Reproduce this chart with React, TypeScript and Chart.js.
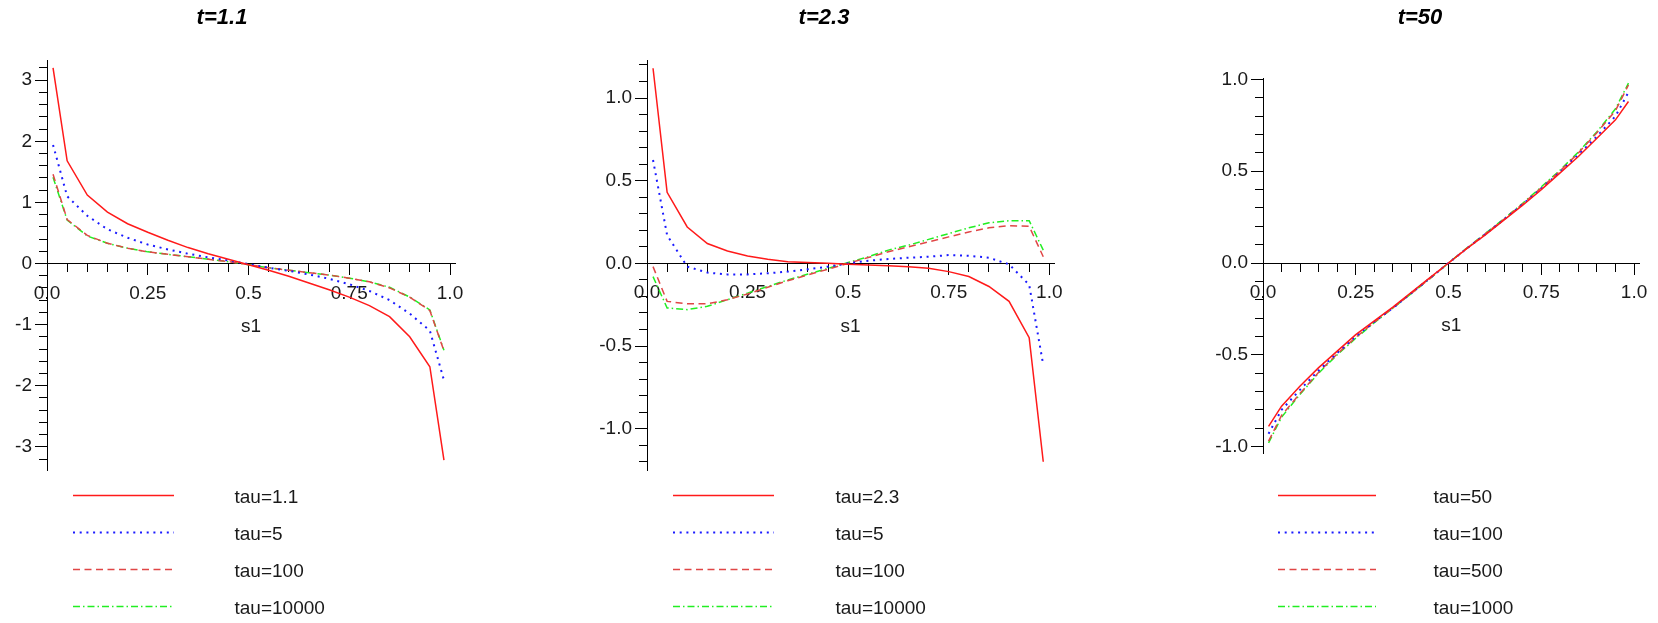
import React, { useEffect, useRef } from 'react';
import { Chart, registerables } from 'chart.js';

Chart.register(...registerables);

// ---------- data ----------
const sValues = [0.015, 0.05, 0.1, 0.15, 0.2, 0.25, 0.3, 0.35, 0.4, 0.45, 0.5, 0.55, 0.6, 0.65, 0.7, 0.75, 0.8, 0.85, 0.9, 0.95, 0.985];

// panel 1: t=1.1
const p1Title = 't=1.1';
const p1Labels = ['tau=1.1', 'tau=5', 'tau=100', 'tau=10000'];
const p1Tau1_1 = [3.2, 1.68, 1.12, 0.84, 0.65, 0.51, 0.38, 0.26, 0.16, 0.07, -0.02, -0.11, -0.21, -0.32, -0.43, -0.55, -0.69, -0.87, -1.2, -1.69, -3.22];
const p1Tau5 = [1.94, 1.1, 0.78, 0.56, 0.42, 0.31, 0.23, 0.16, 0.1, 0.05, -0.01, -0.07, -0.12, -0.18, -0.25, -0.34, -0.45, -0.6, -0.82, -1.1, -1.91];
const p1Tau100 = [1.46, 0.72, 0.46, 0.33, 0.25, 0.19, 0.15, 0.11, 0.07, 0.03, -0.02, -0.07, -0.11, -0.15, -0.19, -0.24, -0.3, -0.4, -0.55, -0.77, -1.43];
const p1Tau10000 = [1.41, 0.71, 0.45, 0.33, 0.25, 0.19, 0.15, 0.11, 0.07, 0.03, -0.02, -0.07, -0.11, -0.15, -0.19, -0.24, -0.3, -0.39, -0.55, -0.76, -1.42];

// panel 2: t=2.3
const p2Title = 't=2.3';
const p2Labels = ['tau=2.3', 'tau=5', 'tau=100', 'tau=10000'];
const p2Tau2_3 = [1.18, 0.43, 0.22, 0.12, 0.075, 0.045, 0.025, 0.01, 0.005, 0.0, -0.005, -0.01, -0.015, -0.02, -0.03, -0.05, -0.08, -0.14, -0.23, -0.45, -1.2];
const p2Tau5 = [0.625, 0.17, -0.02, -0.056, -0.067, -0.067, -0.06, -0.05, -0.036, -0.02, 0.0, 0.016, 0.026, 0.034, 0.04, 0.05, 0.046, 0.034, -0.006, -0.13, -0.615];
const p2Tau100 = [-0.02, -0.23, -0.245, -0.245, -0.22, -0.185, -0.145, -0.105, -0.07, -0.035, 0.0, 0.035, 0.07, 0.1, 0.13, 0.16, 0.19, 0.215, 0.228, 0.224, 0.04];
const p2Tau10000 = [-0.08, -0.27, -0.28, -0.26, -0.22, -0.18, -0.14, -0.1, -0.065, -0.03, 0.005, 0.04, 0.08, 0.11, 0.145, 0.18, 0.215, 0.245, 0.258, 0.258, 0.08];

// panel 3: t=50
const p3Title = 't=50';
const p3Labels = ['tau=50', 'tau=100', 'tau=500', 'tau=1000'];
const p3Tau50 = [-0.89, -0.78, -0.67, -0.57, -0.48, -0.39, -0.315, -0.24, -0.16, -0.08, 0.0, 0.08, 0.155, 0.235, 0.315, 0.4, 0.49, 0.58, 0.68, 0.78, 0.88];
const p3Tau100 = [-0.93, -0.8, -0.69, -0.585, -0.49, -0.4, -0.32, -0.245, -0.163, -0.082, 0.0, 0.08, 0.158, 0.238, 0.32, 0.405, 0.495, 0.59, 0.69, 0.8, 0.93];
const p3Tau500 = [-0.97, -0.83, -0.71, -0.595, -0.495, -0.405, -0.322, -0.245, -0.165, -0.084, 0.0, 0.082, 0.16, 0.24, 0.322, 0.41, 0.5, 0.6, 0.71, 0.83, 0.97];
const p3Tau1000 = [-0.98, -0.84, -0.715, -0.6, -0.5, -0.41, -0.325, -0.246, -0.166, -0.085, 0.0, 0.083, 0.162, 0.242, 0.325, 0.415, 0.505, 0.605, 0.715, 0.84, 0.98];

// tick labels
const xTickValues = [0, 0.25, 0.5, 0.75, 1.0];
const xTickLabels = ['0.0', '0.25', '0.5', '0.75', '1.0'];
const p1YTickValues = [-3, -2, -1, 0, 1, 2, 3];
const p1YTickLabels = ['-3', '-2', '-1', '0', '1', '2', '3'];
const p23YTickValues = [-1, -0.5, 0, 0.5, 1];
const p23YTickLabels = ['-1.0', '-0.5', '0.0', '0.5', '1.0'];

// ---------- styles ----------
const FONT = 'Liberation Sans, Arial, sans-serif';
const LABEL_COLOR = '#1a1a1a';
const seriesStyles = [
  { color: '#ff1a1a', width: 1.5, dash: [] as number[] },
  { color: '#1a1aff', width: 2, dash: [2, 4.7] },
  { color: '#e04646', width: 1.5, dash: [7, 4.5] },
  { color: '#22ee22', width: 1.5, dash: [7, 3, 1.5, 3] },
];

type PanelCfg = {
  title: string;
  labels: string[];
  series: number[][];
  yTickValues: number[];
  yTickLabels: string[];
  left: number;
  width: number;
  padRight: number;
  yAxisWidth: number;
  xMax: number;
  yMin: number;
  yMax: number;
  yMinorStep: number;
  titlePadBottom: number;
  spacer: number;
  legendImgW: number;
  legendLineStart: number;
  legendLineLen: number;
};

const CANVAS_H = 628;

const panels: PanelCfg[] = [
  {
    title: p1Title, labels: p1Labels, series: [p1Tau1_1, p1Tau5, p1Tau100, p1Tau10000],
    yTickValues: p1YTickValues, yTickLabels: p1YTickLabels,
    left: -11, width: 486, padRight: 20, yAxisWidth: 58, xMax: 1.0124,
    yMin: -3.38, yMax: 3.33, yMinorStep: 0.2, titlePadBottom: 28.6, spacer: 0,
    legendImgW: 218, legendLineStart: 66, legendLineLen: 101,
  },
  {
    title: p2Title, labels: p2Labels, series: [p2Tau2_3, p2Tau5, p2Tau100, p2Tau10000],
    yTickValues: p23YTickValues, yTickLabels: p23YTickLabels,
    left: 594, width: 480, padRight: 20, yAxisWidth: 53, xMax: 1.0117,
    yMin: -1.25, yMax: 1.23, yMinorStep: 0.1, titlePadBottom: 28.6, spacer: 0,
    legendImgW: 214, legendLineStart: 61, legendLineLen: 101,
  },
  {
    title: p3Title, labels: p3Labels, series: [p3Tau50, p3Tau100, p3Tau500, p3Tau1000],
    yTickValues: p23YTickValues, yTickLabels: p23YTickLabels,
    left: 1200, width: 458, padRight: 18, yAxisWidth: 63, xMax: 1.0143,
    yMin: -1.035, yMax: 1.008, yMinorStep: 0.1, titlePadBottom: 46.6, spacer: 17,
    legendImgW: 206, legendLineStart: 60, legendLineLen: 98,
  },
];

function stepTicks(min: number, max: number, step: number): number[] {
  const out: number[] = [];
  const a = Math.ceil(min / step - 1e-9);
  const b = Math.floor(max / step + 1e-9);
  for (let k = a; k <= b; k++) out.push(Math.round(k * step * 1000) / 1000);
  return out;
}

function lookup(v: number, values: number[], labels: string[]): string {
  const i = values.findIndex((m) => Math.abs(m - v) < 1e-6);
  return i >= 0 ? labels[i] : '';
}

function makeLegendImage(style: { color: string; width: number; dash: number[] }, w: number, start: number, len: number) {
  const c = document.createElement('canvas');
  c.width = w;
  c.height = 13;
  const ctx = c.getContext('2d')!;
  ctx.strokeStyle = style.color;
  ctx.lineWidth = style.width;
  ctx.setLineDash(style.dash);
  ctx.beginPath();
  ctx.moveTo(start, 4.5);
  ctx.lineTo(start + len, 4.5);
  ctx.stroke();
  return c;
}

function Panel({ cfg }: { cfg: PanelCfg }) {
  const ref = useRef<HTMLCanvasElement | null>(null);

  useEffect(() => {
    if (!ref.current) return;
    const labelFont = { family: FONT, size: 19 };
    const minorX = stepTicks(0, 1, 0.05);
    const minorY = stepTicks(cfg.yMin, cfg.yMax, cfg.yMinorStep);
    const images = seriesStyles.map((st) => makeLegendImage(st, cfg.legendImgW, cfg.legendLineStart, cfg.legendLineLen));

    const datasets = cfg.series.map((vals, i) => ({
      label: cfg.labels[i],
      data: sValues.map((s, j) => ({ x: s, y: vals[j] })),
      borderColor: seriesStyles[i].color,
      backgroundColor: 'transparent',
      borderWidth: seriesStyles[i].width,
      borderDash: seriesStyles[i].dash,
      pointRadius: 0,
      tension: 0,
      fill: false,
      xAxisID: 'x',
      yAxisID: 'y',
    }));

    const scales: any = {
      x: {
        type: 'linear', axis: 'x', position: { y: 0 }, min: 0, max: cfg.xMax, bounds: 'data',
        afterBuildTicks: (s: any) => { s.ticks = minorX.map((v) => ({ value: v })); },
        ticks: {
          autoSkip: false, maxRotation: 0, minRotation: 0, padding: 10.5, color: LABEL_COLOR, font: labelFont,
          callback: (v: any) => lookup(Number(v), xTickValues, xTickLabels),
        },
        grid: { drawOnChartArea: false, drawTicks: true, tickLength: 8, color: '#000', lineWidth: 1 },
        border: { display: true, color: '#000', width: 1 },
        title: { display: true, text: 's1', color: LABEL_COLOR, font: labelFont, padding: { top: 0, bottom: 0 } },
      },
      xMajor: {
        type: 'linear', axis: 'x', position: { y: 0 }, min: 0, max: cfg.xMax, bounds: 'data',
        afterBuildTicks: (s: any) => { s.ticks = xTickValues.map((v) => ({ value: v })); },
        ticks: { display: false, autoSkip: false },
        grid: { drawOnChartArea: false, drawTicks: true, tickLength: 12, color: '#000', lineWidth: 1 },
        border: { display: false },
        title: { display: false },
      },
      y: {
        type: 'linear', axis: 'y', position: 'left', min: cfg.yMin, max: cfg.yMax, bounds: 'data',
        afterBuildTicks: (s: any) => { s.ticks = minorY.map((v) => ({ value: v })); },
        afterFit: (s: any) => { s.width = cfg.yAxisWidth; },
        ticks: {
          autoSkip: false, padding: 7, color: LABEL_COLOR, font: labelFont,
          callback: (v: any) => lookup(Number(v), cfg.yTickValues, cfg.yTickLabels),
        },
        grid: { drawOnChartArea: false, drawTicks: true, tickLength: 8, color: '#000', lineWidth: 1 },
        border: { display: true, color: '#000', width: 1 },
      },
      yMajor: {
        type: 'linear', axis: 'y', position: { x: 0 }, min: cfg.yMin, max: cfg.yMax, bounds: 'data',
        afterBuildTicks: (s: any) => { s.ticks = cfg.yTickValues.map((v) => ({ value: v })); },
        ticks: { display: false, autoSkip: false },
        grid: { drawOnChartArea: false, drawTicks: true, tickLength: 12, color: '#000', lineWidth: 1 },
        border: { display: false },
      },
    };
    if (cfg.spacer > 0) {
      scales.xSpacer = {
        type: 'linear', axis: 'x', position: 'bottom', min: 0, max: 1, display: true,
        ticks: { display: false }, grid: { display: false }, border: { display: false }, title: { display: false },
        afterFit: (s: any) => { s.height = cfg.spacer; },
      };
    }

    const chart = new Chart(ref.current, {
      type: 'line',
      data: { datasets },
      options: {
        responsive: false,
        maintainAspectRatio: false,
        animation: false,
        devicePixelRatio: 1,
        events: [],
        layout: { padding: { left: 0, right: cfg.padRight, top: 0, bottom: 0 } },
        scales,
        plugins: {
          tooltip: { enabled: false },
          title: {
            display: true, text: cfg.title, color: '#000', fullSize: true,
            font: { family: FONT, size: 22, weight: 'bold', style: 'italic' },
            padding: { top: 5, bottom: cfg.titlePadBottom },
          },
          legend: {
            display: true, position: 'bottom', align: 'start', fullSize: true,
            labels: {
              usePointStyle: true,
              pointStyleWidth: cfg.legendImgW,
              padding: 18,
              color: LABEL_COLOR,
              font: labelFont,
              generateLabels: (ch: any) => ch.data.datasets.map((ds: any, i: number) => ({
                text: ds.label,
                pointStyle: images[i],
                fillStyle: 'transparent',
                strokeStyle: seriesStyles[i].color,
                lineWidth: 0,
                hidden: false,
                datasetIndex: i,
                fontColor: LABEL_COLOR,
              })),
            },
          },
        },
      } as any,
    });
    return () => chart.destroy();
  }, [cfg]);

  return (
    <canvas
      ref={ref}
      width={cfg.width}
      height={CANVAS_H}
      style={{ position: 'absolute', left: cfg.left, top: 0, width: cfg.width, height: CANVAS_H }}
    />
  );
}

export default function App() {
  return (
    <div style={{ position: 'fixed', left: 0, top: 0, width: 1658, height: 623, overflow: 'hidden', background: '#fff' }}>
      {panels.map((p, i) => <Panel key={i} cfg={p} />)}
    </div>
  );
}
